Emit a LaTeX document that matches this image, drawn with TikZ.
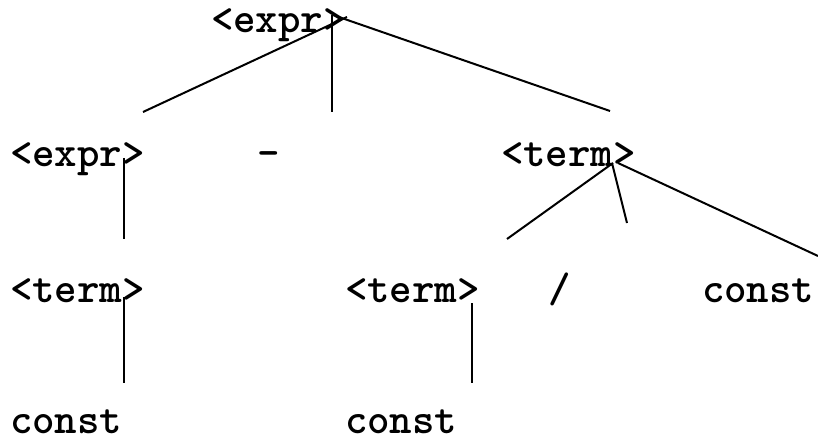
\documentclass[tikz,border=0pt]{standalone}
\usepackage{fontspec}
\begin{document}
\begin{tikzpicture}[x=1pt,y=-1pt,
  sym/.style={anchor=base west,inner sep=0pt,outer sep=0pt,
    font=\ttfamily\bfseries\fontsize{42.8}{44}\selectfont},
  branch/.style={line width=2pt}]
\useasboundingbox (0,0) rectangle (818,438);

% symbols of the parse tree
\node[sym] (root)  at (211,33)  {<expr>};
\node[sym] (expr)  at (10,167)  {<expr>};
\node[sym] (minus) at (257,167) {-};
\node[sym] (termA) at (501,167) {<term>};
\node[sym] (termB) at (10,302)  {<term>};
\node[sym] (termC) at (345,302) {<term>};
\node[sym] (slash) at (548,302) {/};
\node[sym] (constA) at (702,302) {const};
\node[sym] (constB) at (10,433)  {const};
\node[sym] (constC) at (345,433) {const};

% branch end points
\coordinate (rootL) at (347,17);
\coordinate (rootM) at (332,15);
\coordinate (rootR) at (333,15);
\coordinate (toExpr)  at (143,112);
\coordinate (toMinus) at (332,112);
\coordinate (toTerm)  at (610,111);

\coordinate (exprTop) at (124,158);
\coordinate (exprBot) at (124,239);

\coordinate (termJL) at (613,163);
\coordinate (termJM) at (612,163);
\coordinate (termJR) at (618,163);
\coordinate (toTermC) at (507,239);
\coordinate (toSlash) at (627,223);
\coordinate (toConst) at (818,256);

\coordinate (termBTop) at (124,297);
\coordinate (termBBot) at (124,383);
\coordinate (termCTop) at (472,303);
\coordinate (termCBot) at (472,383);

% branches
\draw[branch] (rootL) -- (toExpr);
\draw[branch] (rootM) -- (toMinus);
\draw[branch] (rootR) -- (toTerm);
\draw[branch] (exprTop) -- (exprBot);
\draw[branch] (termJL) -- (toTermC);
\draw[branch] (termJM) -- (toSlash);
\draw[branch] (termJR) -- (toConst);
\draw[branch] (termBTop) -- (termBBot);
\draw[branch] (termCTop) -- (termCBot);
\end{tikzpicture}
\end{document}
